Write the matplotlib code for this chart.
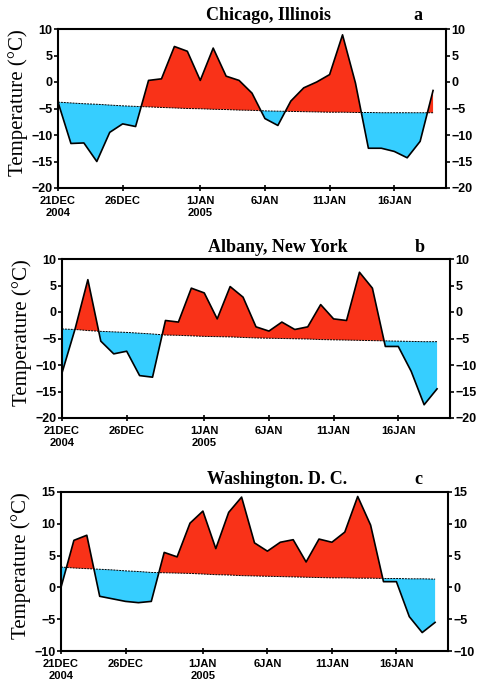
import numpy as np
import matplotlib.pyplot as plt

# daily temperatures 21 Dec 2004 - 19 Jan 2005 (30 days)
days = np.arange(30)
tick_pos = [0, 5, 11, 16, 21, 26]
tick_labels = ['21DEC\n2004', '26DEC', '1JAN\n2005', '6JAN', '11JAN', '16JAN']

chicago = [-3.8, -11.6, -11.5, -15.0, -9.5, -7.9, -8.4, 0.3, 0.6, 6.7,
           5.8, 0.3, 6.4, 1.1, 0.3, -2.1, -6.9, -8.2, -3.6, -1.1,
           0.0, 1.4, 8.9, -0.2, -12.5, -12.5, -13.1, -14.3, -11.2, -1.6]
chicago_clim = [-3.8, -3.95, -4.1, -4.2, -4.35, -4.5, -4.6, -4.7, -4.8, -4.9,
                -5.0, -5.05, -5.15, -5.2, -5.3, -5.35, -5.45, -5.5, -5.55, -5.6,
                -5.65, -5.7, -5.7, -5.75, -5.75, -5.8, -5.8, -5.8, -5.8, -5.8]

albany = [-11.5, -3.3, 6.1, -5.5, -7.9, -7.4, -12.0, -12.3, -1.6, -1.9,
          4.5, 3.6, -1.3, 4.8, 2.8, -2.8, -3.6, -1.9, -3.3, -2.8,
          1.4, -1.3, -1.6, 7.5, 4.5, -6.5, -6.5, -11.2, -17.5, -14.5]
albany_clim = [-3.2, -3.3, -3.5, -3.65, -3.75, -3.85, -4.0, -4.15, -4.35, -4.4,
               -4.5, -4.6, -4.65, -4.7, -4.8, -4.9, -4.95, -5.0, -5.05, -5.1,
               -5.2, -5.25, -5.3, -5.35, -5.4, -5.45, -5.5, -5.55, -5.6, -5.6]

washington = [0.0, 7.4, 8.2, -1.4, -1.8, -2.2, -2.4, -2.2, 5.5, 4.8,
              10.1, 12.0, 6.1, 11.8, 14.2, 7.0, 5.7, 7.1, 7.5, 4.0,
              7.6, 7.1, 8.7, 14.3, 9.8, 0.9, 0.9, -4.6, -7.1, -5.5]
washington_clim = [3.2, 3.05, 2.95, 2.85, 2.75, 2.6, 2.5, 2.35, 2.3, 2.25,
                   2.2, 2.1, 2.0, 1.95, 1.85, 1.8, 1.75, 1.7, 1.65, 1.6,
                   1.55, 1.5, 1.5, 1.45, 1.45, 1.4, 1.4, 1.35, 1.35, 1.3]

panels = [
    ('Chicago, Illinois', 'a', chicago, chicago_clim, (-20, 10), [-20, -15, -10, -5, 0, 5, 10],
     (58, 29, 446, 188), (268, 15), (418, 15)),
    ('Albany, New York', 'b', albany, albany_clim, (-20, 10), [-20, -15, -10, -5, 0, 5, 10],
     (62, 259, 450, 418), (278, 248), (420, 248)),
    ('Washington. D. C.', 'c', washington, washington_clim, (-10, 15), [-10, -5, 0, 5, 10, 15],
     (61, 492, 448, 651), (277, 479), (418, 479)),
]

W, H = 479, 683
fig = plt.figure(figsize=(W / 100, H / 100), dpi=100)

red = '#F93218'
blue = '#36CEFF'

for title, letter, temp, clim, ylim, yticks, box, tpos, lpos in panels:
    l, t, r, b = box
    ax = fig.add_axes([l / W, 1 - b / H, (r - l) / W, (b - t) / H])
    temp = np.array(temp)
    clim = np.array(clim)
    ax.fill_between(days, temp, clim, where=temp >= clim, interpolate=True,
                    color=red, lw=0)
    ax.fill_between(days, temp, clim, where=temp <= clim, interpolate=True,
                    color=blue, lw=0)
    ax.plot(days, clim, color='black', lw=0.7, ls=(0, (2, 1)))
    ax.plot(days, temp, color='black', lw=1.2)
    ax.set_xlim(0, 30)
    ax.set_ylim(*ylim)
    ax.set_yticks(yticks)
    ax.set_yticklabels([str(v).replace('-', '\u2212') for v in yticks],
                       fontfamily='Liberation Sans', fontweight='bold', fontsize=9)
    ax.set_xticks(tick_pos)
    ax.set_xticklabels(tick_labels, fontfamily='Liberation Sans', fontweight='bold',
                       fontsize=8, linespacing=1.2)
    ax.tick_params(axis='y', direction='out', length=3, width=1.2, pad=1,
                   right=True, labelright=True)
    ax.tick_params(axis='x', direction='inout', length=5, width=1.2, pad=3.5)
    for s in ax.spines.values():
        s.set_linewidth(1.5)
    ax.set_ylabel('Temperature (\u00b0C)', fontfamily='Liberation Serif',
                  fontsize=15)
    ax.yaxis.set_label_coords(-0.077, 0.54)
    fig.text(tpos[0] / W, 1 - tpos[1] / H, title, fontfamily='Liberation Serif',
             fontweight='bold', fontsize=13, ha='center', va='center')
    fig.text(lpos[0] / W, 1 - lpos[1] / H, letter, fontfamily='Liberation Serif',
             fontweight='bold', fontsize=13, ha='center', va='center')

fig.savefig('out.png', dpi=100)
